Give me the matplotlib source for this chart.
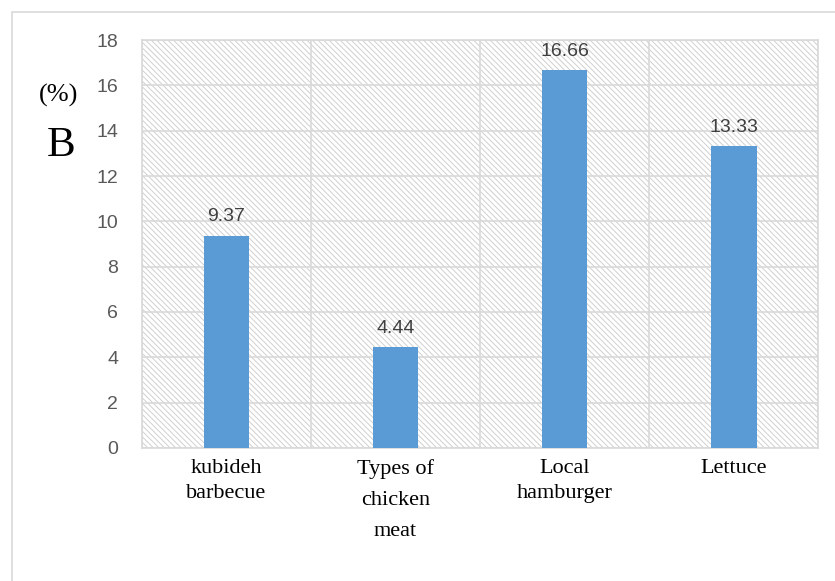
import numpy as np
import matplotlib.pyplot as plt
from matplotlib.patches import Rectangle

categories = ["kubideh\nbarbecue", "Types of\nchicken\nmeat", "Local\nhamburger", "Lettuce"]
values = [9.37, 4.44, 16.66, 13.33]
yticks = [0, 2, 4, 6, 8, 10, 12, 14, 16, 18]

plt.rcParams['hatch.color'] = '#d0d0d0'
plt.rcParams['hatch.linewidth'] = 0.7

fig = plt.figure(figsize=(8.35, 5.81), dpi=100)
ax = fig.add_axes([0.170, 0.229, 0.810, 0.702])

# outer frame of the chart
fig.patches.append(Rectangle((12/835, -0.1), 1.0, 1 - 12/581 + 0.1, transform=fig.transFigure,
                             fill=False, edgecolor='#d9d9d9', linewidth=1.2))

# hatched plot background
ax.patch.set_facecolor('white')
ax.add_patch(Rectangle((0, 0), 1, 1, transform=ax.transAxes, facecolor='white',
                       edgecolor='#d0d0d0', hatch='\\\\\\\\\\\\', linewidth=0, zorder=0))

x = np.arange(len(values))
bars = ax.bar(x, values, width=0.27, color='#5B9BD5', zorder=3)
for xi, v in zip(x, values):
    ax.text(xi, v + 0.45, f"{v:.2f}", ha='center', va='bottom', fontsize=14,
            color='#404040', family='Liberation Sans', zorder=4)

ax.set_xlim(-0.5, len(values) - 0.5)
ax.set_ylim(0, 18)
ax.set_yticks(yticks)
ax.set_yticklabels([str(t) for t in yticks], fontsize=14, color='#595959', family='Liberation Sans')
ax.tick_params(axis='y', length=0, pad=17)
ax.set_xticks(x)
ax.set_xticklabels(categories, fontsize=16, family='Liberation Serif', color='black')
ax.tick_params(axis='x', length=0, pad=8)
for lab in ax.get_xticklabels():
    lab.set_linespacing(1.85 if lab.get_text().count('\n') > 1 else 1.42)

ax.set_xticks(np.arange(-0.5, len(values), 1.0), minor=True)
ax.tick_params(axis='x', which='minor', length=0)
ax.grid(axis='y', which='major', color='#d9d9d9', linewidth=1.2, zorder=1)
ax.grid(axis='x', which='minor', color='#d9d9d9', linewidth=1.2, zorder=1)
ax.grid(axis='x', which='major', visible=False)
ax.set_axisbelow(True)
for s in ax.spines.values():
    s.set_color('#d9d9d9')
    s.set_linewidth(1.2)

fig.text(59/835, 1 - 95/581, "(%)", fontsize=19, family='Liberation Serif', ha='center', va='center')
fig.text(61/835, 1 - 146/581, "B", fontsize=31, family='Liberation Serif', ha='center', va='center')

fig.savefig("out.png", dpi=100)
